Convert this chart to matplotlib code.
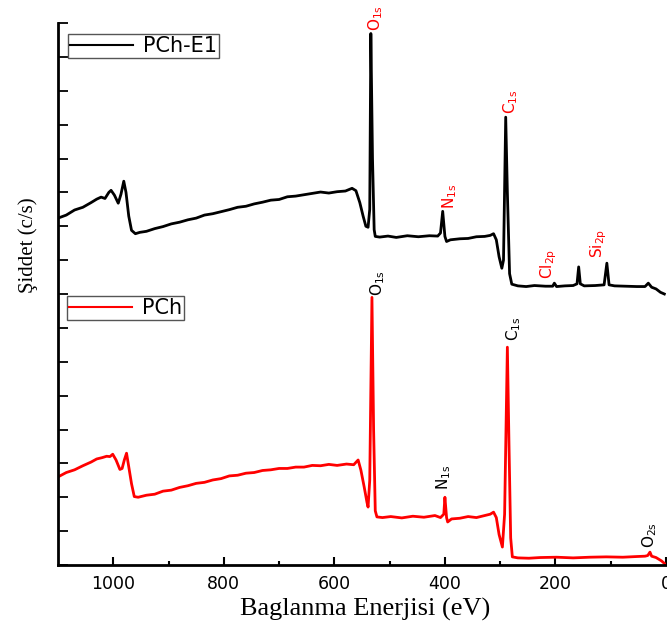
import numpy as np
import matplotlib
matplotlib.use("Agg")
import matplotlib.pyplot as plt
from matplotlib.lines import Line2D

# PCh-E1 spectrum (binding energy eV, intensity offset)
e1_energy = [1100, 1085, 1070, 1055, 1040, 1030, 1022, 1015, 1008, 1004, 998, 991, 986, 981, 977,
             972, 967, 960, 952, 940, 925, 910, 895, 880, 865, 850, 835, 820, 805, 790, 775, 760,
             745, 730, 715, 700, 685, 670, 655, 640, 625, 610, 595, 580, 568, 561, 554, 548, 543,
             539, 536, 534, 531, 528, 526, 518, 503, 488, 468, 448, 428, 413, 408, 404, 400, 397,
             390, 373, 358, 343, 328, 318, 312, 307, 302, 297, 294, 290, 287, 283, 279, 268, 253,
             238, 218, 205, 202, 198, 183, 168, 161, 158, 155, 148, 128, 112, 107, 103, 93, 73,
             53, 38, 32, 26, 18, 10, 3]
e1_int = [10.24, 10.33, 10.48, 10.56, 10.70, 10.80, 10.86, 10.82, 11.00, 11.06, 10.92, 10.68,
          10.95, 11.33, 11.00, 10.30, 9.88, 9.78, 9.82, 9.85, 9.93, 9.99, 10.07, 10.12, 10.19,
          10.24, 10.33, 10.37, 10.43, 10.49, 10.56, 10.59, 10.66, 10.71, 10.77, 10.79, 10.87,
          10.89, 10.93, 10.97, 11.01, 10.98, 11.02, 11.04, 11.12, 11.05, 10.70, 10.30, 10.00,
          9.97, 10.50, 15.69, 12.00, 9.90, 9.70, 9.68, 9.71, 9.67, 9.72, 9.69, 9.72, 9.71, 9.80,
          10.44, 9.70, 9.55, 9.60, 9.63, 9.64, 9.69, 9.70, 9.73, 9.78, 9.60, 9.10, 8.76, 9.00,
          13.22, 11.00, 8.60, 8.29, 8.24, 8.22, 8.25, 8.23, 8.23, 8.32, 8.22, 8.24, 8.25, 8.30,
          8.80, 8.30, 8.24, 8.25, 8.27, 8.91, 8.27, 8.24, 8.23, 8.22, 8.22, 8.32, 8.20, 8.15,
          8.05, 8.00]

# PCh spectrum
p_energy = [1100, 1085, 1070, 1055, 1040, 1030, 1020, 1012, 1006, 1001, 995, 988, 984, 980, 976,
            972, 967, 962, 955, 940, 925, 910, 895, 880, 865, 850, 835, 820, 805, 790, 775, 760,
            745, 730, 715, 700, 685, 670, 655, 640, 625, 610, 595, 578, 565, 557, 552, 546, 541,
            539, 536, 532, 529, 526, 523, 513, 498, 478, 458, 438, 418, 408, 402, 400, 397, 395,
            388, 373, 358, 343, 328, 318, 312, 307, 302, 296, 292, 287, 284, 281, 278, 268, 248,
            228, 198, 168, 138, 108, 78, 53, 38, 33, 29, 26, 18, 8, 1]
p_int = [2.60, 2.73, 2.81, 2.93, 3.04, 3.13, 3.17, 3.21, 3.20, 3.27, 3.10, 2.82, 2.85, 3.10, 3.30,
         2.90, 2.40, 2.02, 2.00, 2.06, 2.09, 2.18, 2.21, 2.29, 2.34, 2.41, 2.44, 2.51, 2.55, 2.63,
         2.65, 2.71, 2.73, 2.79, 2.81, 2.85, 2.85, 2.89, 2.89, 2.94, 2.93, 2.97, 2.94, 2.98, 2.96,
         3.10, 2.80, 2.30, 1.85, 1.71, 2.50, 7.90, 4.00, 1.60, 1.42, 1.40, 1.43, 1.39, 1.44, 1.41,
         1.46, 1.40, 1.50, 2.00, 1.40, 1.27, 1.36, 1.38, 1.43, 1.40, 1.46, 1.50, 1.56, 1.40, 0.90,
         0.53, 1.50, 6.43, 3.50, 0.80, 0.24, 0.21, 0.20, 0.22, 0.23, 0.21, 0.23, 0.24, 0.23, 0.25,
         0.26, 0.28, 0.38, 0.26, 0.22, 0.12, 0.02]

# peak labels: (energy, y, text)
e1_labels = [(526, 15.75, "O_{1s}"), (391, 10.5, "N_{1s}"), (281, 13.3, "C_{1s}"),
             (213, 8.45, "Cl_{2p}"), (121, 9.05, "Si_{2p}")]
p_labels = [(521, 7.95, "O_{1s}"), (402, 2.2, "N_{1s}"), (276, 6.6, "C_{1s}"),
            (30, 0.5, "O_{2s}")]

fig = plt.figure(figsize=(6.67, 6.33), dpi=100)
ax = fig.add_axes([58/667, 1-565/633, 608/667, 542/633])

ax.plot(e1_energy, e1_int, color="black", lw=2)
ax.plot(p_energy, p_int, color="red", lw=2)

for x, y, t in e1_labels:
    ax.text(x, y, r"$\mathregular{%s}$" % t, rotation=90, ha="center", va="bottom",
            color="red", fontsize=11)
for x, y, t in p_labels:
    ax.text(x, y, r"$\mathregular{%s}$" % t, rotation=90, ha="center", va="bottom",
            color="black", fontsize=11)

ax.set_xlim(1100, 0)
ax.set_ylim(0, 16)
ax.set_xticks([1000, 800, 600, 400, 200, 0])
ax.set_xticks([900, 700, 500, 300, 100], minor=True)
ax.set_yticks(np.arange(0, 17, 1))
ax.set_yticklabels([])
ax.tick_params(axis="x", which="major", direction="in", length=6, width=1.5, labelsize=12.5, pad=7)
ax.tick_params(axis="x", which="minor", direction="in", length=3, width=1.5)
ax.tick_params(axis="y", direction="in", length=7, width=1.3)
for s in ["top", "right"]:
    ax.spines[s].set_visible(False)
for s in ["left", "bottom"]:
    ax.spines[s].set_linewidth(2)

leg_kw = dict(fontsize=15, borderpad=0.1, handlelength=3.0, handletextpad=0.5,
              borderaxespad=0, fancybox=False, framealpha=1, loc="upper left",
              bbox_transform=fig.transFigure)
leg1 = ax.legend([Line2D([], [], color="black", lw=1.5)], ["PCh-E1"],
                 bbox_to_anchor=(68/667, 1-34/633), **leg_kw)
leg1.get_frame().set_edgecolor("#555555")
ax.add_artist(leg1)
leg2 = ax.legend([Line2D([], [], color="red", lw=1.5)], ["PCh"],
                 bbox_to_anchor=(67/667, 1-296/633), **leg_kw)
leg2.get_frame().set_edgecolor("#555555")

fig.text(28/667, 1-245/633, "Şiddet (c/s)", rotation=90, ha="center", va="center",
         family="Liberation Serif", fontsize=15)
fig.text(365/667, 1-609/633, "Baglanma Enerjisi (eV)", ha="center", va="center",
         family="Liberation Serif", fontsize=19)

fig.savefig("out.png", dpi=100)
